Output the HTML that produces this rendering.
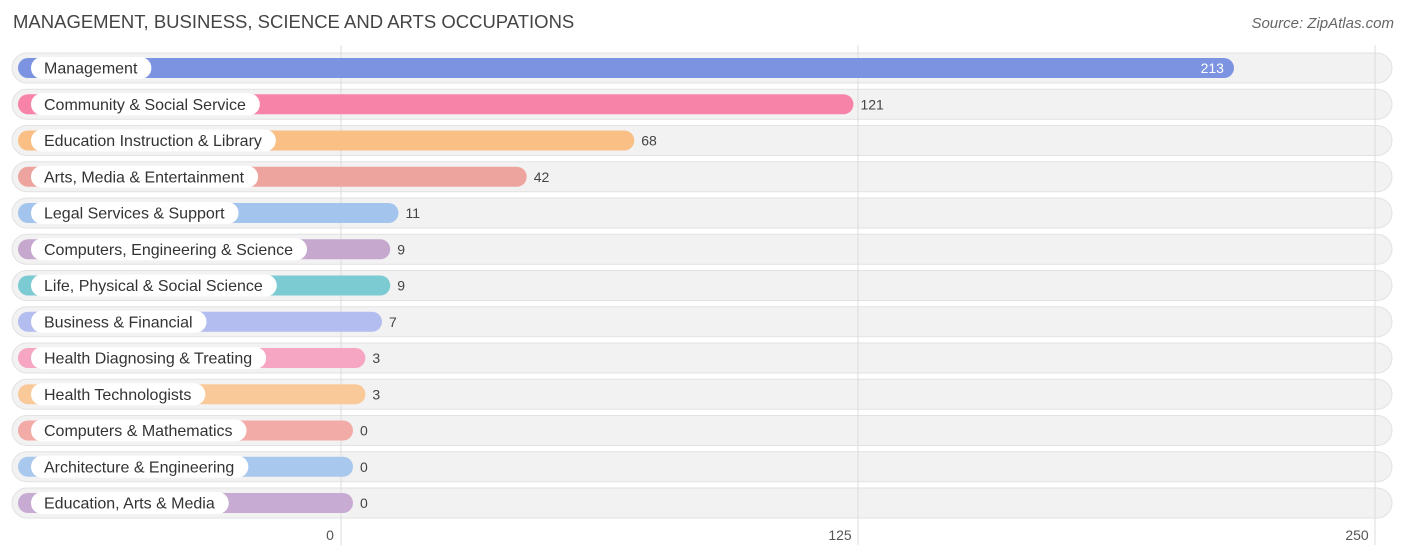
<!DOCTYPE html>
<html><head><meta charset="utf-8"><style>
body{margin:0;background:#fff;font-family:"Liberation Sans",sans-serif;}
#c{position:relative;width:1406px;height:559px;overflow:hidden}
.t{position:absolute;left:13px;top:11px;font-size:18.5px;color:#444}
.src{position:absolute;right:12px;top:15px;font-size:15px;color:#666;font-style:italic}
</style></head><body>
<div id="c">
<div class="t">MANAGEMENT, BUSINESS, SCIENCE AND ARTS OCCUPATIONS</div>
<div class="src">Source: ZipAtlas.com</div>
<svg id="s" width="1406" height="559" style="position:absolute;left:0;top:0"></svg>
</div>
<script>
const categories=["Management","Community & Social Service","Education Instruction & Library","Arts, Media & Entertainment","Legal Services & Support","Computers, Engineering & Science","Life, Physical & Social Science","Business & Financial","Health Diagnosing & Treating","Health Technologists","Computers & Mathematics","Architecture & Engineering","Education, Arts & Media"];
const values=[213,121,68,42,11,9,9,7,3,3,0,0,0];
const tickValues=[0,125,250];
const colors=["#7b93e0","#f783a8","#f9bf85","#eea49e","#a3c4ec","#c6a8cf","#7ccbd2","#b3bdf0","#f6a6c2","#f9c99a","#f2aba6","#a9c8ee","#c8abd3"];
const s=document.getElementById('s');const NS='http://www.w3.org/2000/svg';
function x(v){return 341+v*(517/125);}
function y(i){return 68+i*36.25;}
function mk(t,a,p){const e=document.createElementNS(NS,t);for(const k in a)e.setAttribute(k,a[k]);(p||s).appendChild(e);return e;}
categories.forEach((c,i)=>{
const cy=y(i);
const bg=mk('rect',{x:12,y:cy-15,width:1380,height:30,rx:15,fill:'#f2f2f2',stroke:'#e2e2e2'});


});
tickValues.forEach(v=>{
const l=mk('line',{x1:x(v),x2:x(v),y1:45,y2:545,stroke:'#dcdcdc','stroke-width':1});


const t=mk('text',{x:x(v)+(v===0?-11:v===250?-18:-18),y:540,'font-size':14,fill:'#555','text-anchor':'middle'});
t.textContent=v;


});
categories.forEach((c,i)=>{
const cy=y(i);
const end=x(values[i])+12;
const b=mk('rect',{x:18,y:cy-10,width:end-18,height:20,rx:10,fill:colors[i]});


const lt=mk('text',{x:44,y:cy+5.5,'font-size':16,fill:'#333'});
lt.textContent=c;
const w=lt.getComputedTextLength();
const p=mk('rect',{x:31,y:cy-11,width:w+27,height:22,rx:11,fill:'#fff'});
s.insertBefore(p,lt);




const inside=values[i]>150;
const vt=mk('text',{x:inside?end-10:end+7,y:cy+5,'font-size':14,fill:inside?'#fff':'#444','text-anchor':inside?'end':'start'});
vt.textContent=values[i];


});
</script>
</body></html>
